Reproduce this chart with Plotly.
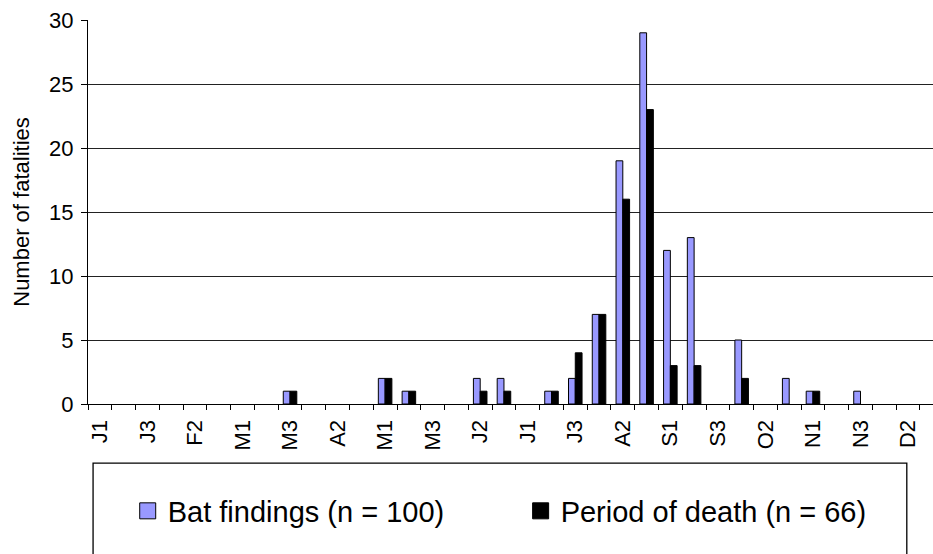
import plotly.graph_objects as go

# ten-day periods (decades) of the year, Jan 1st decade ... Dec 3rd decade
decades = [
    "J1", "J2", "J3", "F1", "F2", "F3", "M1", "M2", "M3", "A1", "A2", "A3",
    "M1", "M2", "M3", "J1", "J2", "J3", "J1", "J2", "J3", "A1", "A2", "A3",
    "S1", "S2", "S3", "O1", "O2", "O3", "N1", "N2", "N3", "D1", "D2", "D3",
]
bat_findings = [
    0, 0, 0, 0, 0, 0, 0, 0, 1, 0, 0, 0,
    2, 1, 0, 0, 2, 2, 0, 1, 2, 7, 19, 29,
    12, 13, 0, 5, 0, 2, 1, 0, 1, 0, 0, 0,
]
period_of_death = [
    0, 0, 0, 0, 0, 0, 0, 0, 1, 0, 0, 0,
    2, 1, 0, 0, 1, 1, 0, 1, 4, 7, 16, 23,
    3, 3, 0, 2, 0, 0, 1, 0, 0, 0, 0, 0,
]
name_findings = "Bat findings (n = 100)"
name_death = "Period of death (n = 66)"

BLUE = "#9999FF"
FONT = "Arial, Liberation Sans, sans-serif"
idx = list(range(len(decades)))


def drop_zeros(values):
    # empty decades get no bar at all (as in the original chart)
    return [v if v else None for v in values]


fig = go.Figure()

fig.add_trace(
    go.Bar(
        x=idx, y=drop_zeros(bat_findings), name=name_findings, legendgroup="a",
        marker=dict(color=BLUE, line=dict(color="black", width=1)),
        showlegend=False,
    )
)
fig.add_trace(
    go.Bar(
        x=idx, y=drop_zeros(period_of_death), name=name_death, legendgroup="b",
        marker=dict(color="black", line=dict(color="black", width=1)),
        showlegend=False,
    )
)

# legend entries (bigger square symbols than the bar legend icons)
fig.add_trace(
    go.Scatter(
        x=[None], y=[None], mode="markers", name=name_findings,
        legendgroup="a", legend="legend",
        marker=dict(symbol="square", size=16, color=BLUE,
                    line=dict(color="black", width=1)),
    )
)
fig.add_trace(
    go.Scatter(
        x=[None], y=[None], mode="markers", name=name_death,
        legendgroup="b", legend="legend2",
        marker=dict(symbol="square", size=16, color="black",
                    line=dict(color="black", width=1)),
    )
)

# legend frame (runs off the bottom of the picture)
fig.add_shape(
    type="rect", xref="paper", yref="paper",
    x0=0.006, x1=0.969, y0=-0.154, y1=-1.0,
    fillcolor="white", line=dict(color="black", width=1.3), layer="above",
)

fig.update_layout(
    width=933,
    height=554,
    barmode="group",
    bargap=0.43,
    bargroupgap=0,
    plot_bgcolor="white",
    paper_bgcolor="white",
    margin={"t": 20, "l": 88, "r": 0, "b": 150, "autoexpand": False},
    font=dict(family=FONT, size=22, color="black"),
    legend=dict(
        x=0.047, y=-0.2786, xanchor="left", yanchor="middle",
        orientation="h", font=dict(size=29), bgcolor="rgba(0,0,0,0)",
    ),
    legend2=dict(
        x=0.512, y=-0.2786, xanchor="left", yanchor="middle",
        orientation="h", font=dict(size=29), bgcolor="rgba(0,0,0,0)",
    ),
)
fig.update_xaxes(
    range=[-0.5, 35.05],
    tickvals=idx[::2],
    ticktext=decades[::2],
    tickangle=-90,
    ticks="outside",
    ticklen=0,
    ticklabelstandoff=6,
    minor=dict(ticks="outside", ticklen=5, tickwidth=1.3, tickcolor="black",
               tick0=-0.5, dtick=1, showgrid=False),
    showline=True,
    linecolor="black",
    linewidth=1.3,
    showgrid=False,
    zeroline=False,
    automargin=False,
)
fig.update_yaxes(
    range=[0, 30],
    dtick=5,
    ticks="outside",
    ticklen=6,
    tickcolor="black",
    tickwidth=1.3,
    ticklabelstandoff=3,
    showline=True,
    linecolor="black",
    linewidth=1.3,
    showgrid=True,
    gridcolor="#222222",
    gridwidth=1.3,
    zeroline=False,
    automargin=False,
    title=dict(text="Number of fatalities", standoff=13, font=dict(size=22)),
)

# the page's default body margin would shift the chart by 8px
fig.write_html(
    "out.html",
    config={"displayModeBar": False},
    post_script="document.body.style.margin = '0';",
)
